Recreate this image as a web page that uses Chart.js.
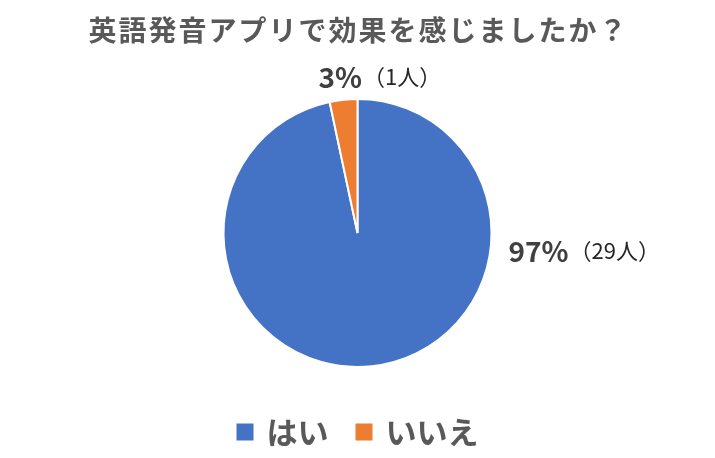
<!DOCTYPE html>
<html>
<head>
<meta charset="utf-8">
<script src="https://cdn.jsdelivr.net/npm/chart.js@4.4.1/dist/chart.umd.min.js"></script>
<style>
  html, body { margin: 0; padding: 0; background: #fff; }
</style>
</head>
<body>
<canvas id="chart" width="715" height="458"></canvas>
<script>
// データ
var titleText = '英語発音アプリで効果を感じましたか？';
var categories = ['はい', 'いいえ'];
var counts = [29, 1];
var percentLabels = ['97%', '3%'];
var countLabels = ['（29人）', '（1人）'];
var sliceColors = ['#4472C4', '#ED7D31'];

var FONT = "'Noto Sans CJK JP', 'Noto Sans', sans-serif";

// タイトル・ラベル・凡例を描くプラグイン
var decorPlugin = {
    id: 'decor',
    afterDraw: function (chart) {
        var ctx = chart.ctx;
        var arcs = chart.getDatasetMeta(0).data;

        // タイトル
        ctx.save();
        ctx.fillStyle = '#595959';
        ctx.font = 'bold 28px ' + FONT;
        ctx.textAlign = 'center';
        ctx.textBaseline = 'middle';
        ctx.letterSpacing = '2px';
        ctx.fillText(titleText, chart.width / 2 + 1, 30);
        ctx.restore();

        // データラベル
        arcs.forEach(function (arc, i) {
            var p = arc.getProps(['x', 'y', 'startAngle', 'endAngle', 'outerRadius'], true);
            var ax, ay;
            if (i === 0) {
                ax = p.x + p.outerRadius + 77;
                ay = p.y + 18;
            } else {
                var mid = (p.startAngle + p.endAngle) / 2;
                ax = p.x + Math.cos(mid) * (p.outerRadius + 23) + 21;
                ay = p.y + Math.sin(mid) * (p.outerRadius + 23);
            }
            ctx.save();
            ctx.textBaseline = 'middle';
            ctx.fillStyle = '#404040';
            ctx.font = 'bold 28px ' + FONT;
            ctx.textAlign = 'right';
            ctx.fillText(percentLabels[i], ax, ay);
            ctx.fillStyle = '#262626';
            ctx.font = '22px ' + FONT;
            ctx.textAlign = 'left';
            ctx.fillText(countLabels[i], ax + 1, ay);
            ctx.restore();
        });

        // 凡例
        ctx.save();
        ctx.font = 'bold 31px ' + FONT;
        ctx.textBaseline = 'middle';
        var box = 17, gap = 13, spacing = 27;
        var widths = categories.map(function (c) { return ctx.measureText(c).width; });
        var total = 0;
        widths.forEach(function (w, i) {
            total += box + gap + w + (i < widths.length - 1 ? spacing : 0);
        });
        var x = chart.width / 2 - total / 2;
        var y = 432;
        categories.forEach(function (c, i) {
            ctx.fillStyle = sliceColors[i];
            ctx.fillRect(x, y - box / 2, box, box);
            ctx.fillStyle = '#595959';
            ctx.textAlign = 'left';
            ctx.fillText(c, x + box + gap, y);
            x += box + gap + widths[i] + spacing;
        });
        ctx.restore();
    }
};

new Chart(document.getElementById('chart'), {
    type: 'pie',
    data: {
        labels: categories,
        datasets: [{
            data: counts,
            backgroundColor: sliceColors,
            borderColor: '#ffffff',
            borderWidth: 2
        }]
    },
    options: {
        responsive: false,
        animation: false,
        layout: { padding: { top: 98, bottom: 90, left: 0, right: 0 } },
        plugins: {
            legend: { display: false },
            title: { display: false },
            tooltip: { enabled: false }
        }
    },
    plugins: [decorPlugin]
});
</script>
</body>
</html>
